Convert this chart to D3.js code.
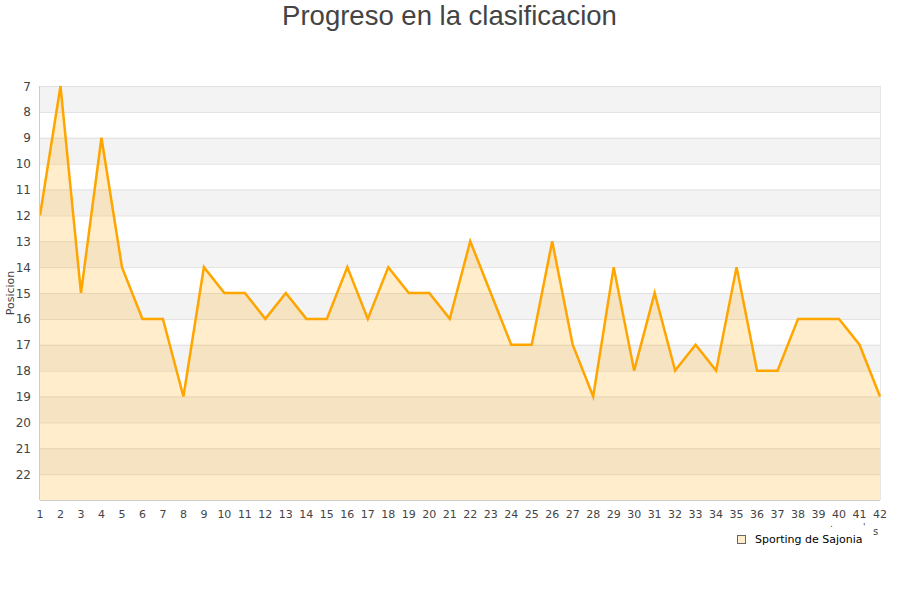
<!DOCTYPE html>
<html><head><meta charset="utf-8">
<script src="https://cdn.jsdelivr.net/npm/d3@7"></script>
<style>body{margin:0;background:#fff}svg{display:block}</style>
</head><body>
<svg id="c" width="900" height="600"></svg>
<script>
const jornadas = d3.range(1, 43);
const posiciones = [12,7,15,9,14,16,16,19,14,15,15,16,15,16,16,14,16,14,15,15,16,13,15,17,17,13,17,19,14,18,15,18,17,18,14,18,18,16,16,16,17,19];
const yTicks = d3.range(7, 23);
const title = "Progreso en la clasificacion";
const yTitle = "Posicion";
const seriesName = "Sporting de Sajonia";

const svg = d3.select("#c");
const m = {l:40, r:880, t:86, b:500};
const x = d3.scaleLinear().domain([1,42]).range([m.l, m.r]);
const y = d3.scaleLinear().domain([7,23]).range([m.t, m.b]);

// bands
const bands = d3.range(7, 23);
svg.selectAll("rect.band").data(bands).enter().append("rect")
  .attr("x", m.l).attr("width", m.r-m.l)
  .attr("y", d=>y(d)).attr("height", d=>y(d+1)-y(d))
  .attr("fill", d => (d-7)%2===0 ? "#f3f3f3" : "#ffffff");
svg.selectAll("line.grid").data(d3.range(7,24)).enter().append("line")
  .attr("x1", m.l).attr("x2", m.r).attr("y1", d=>y(d)+0.5).attr("y2", d=>y(d)+0.5)
  .attr("stroke", "#e0e0e0").attr("stroke-width", 1);
svg.append("line").attr("x1", m.r+0.5).attr("x2", m.r+0.5).attr("y1", m.t).attr("y2", m.b).attr("stroke","#e6e6e6");

const data = jornadas.map((j,i)=>({j, p: posiciones[i]}));
svg.append("path").datum(data)
  .attr("d", d3.area().x(d=>x(d.j)).y0(m.b).y1(d=>y(d.p)))
  .attr("fill", "rgba(255,165,0,0.2)");
svg.append("path").datum(data)
  .attr("d", d3.line().x(d=>x(d.j)).y(d=>y(d.p)))
  .attr("fill", "none").attr("stroke", "#ffa500").attr("stroke-width", 2.5).attr("stroke-linejoin","miter");

// axes
svg.append("line").attr("x1", m.l-0.5).attr("x2", m.l-0.5).attr("y1", m.t).attr("y2", m.b).attr("stroke","#cccccc");
svg.append("line").attr("x1", m.l).attr("x2", m.r).attr("y1", m.b+0.5).attr("y2", m.b+0.5).attr("stroke","#cccccc");

const font = "DejaVu Sans, Verdana, sans-serif";
svg.selectAll("text.yt").data(yTicks).enter().append("text")
  .attr("x", 31).attr("y", d=>y(d)+4.5).attr("text-anchor","end")
  .attr("font-family", font).attr("font-size", 12).attr("fill", "#444").text(d=>d);
svg.selectAll("text.xt").data(jornadas).enter().append("text")
  .attr("x", d=>x(d)).attr("y", 518).attr("text-anchor","middle")
  .attr("font-family", font).attr("font-size", 11).attr("fill", "#444").text(d=>d);

svg.append("text").attr("transform","translate(14,293) rotate(-90)").attr("text-anchor","middle")
  .attr("font-family", font).attr("font-size", 11).attr("fill","#444").text(yTitle);

svg.append("text").attr("x", 449.5).attr("y", 25).attr("text-anchor","middle")
  .attr("font-family", "Liberation Sans, Arial, sans-serif").attr("font-size", 27.5).attr("fill","#444").text(title);

// stray axis title fragments
svg.append("text").attr("x", 830).attr("y", 527).attr("font-family", font).attr("font-size", 9).attr("fill","#444").text(".");
svg.append("text").attr("x", 863).attr("y", 530).attr("font-family", font).attr("font-size", 9).attr("fill","#444").text("'");
svg.append("text").attr("x", 873).attr("y", 535).attr("font-family", font).attr("font-size", 10).attr("fill","#444").text("s");

// legend
svg.append("rect").attr("x", 737.5).attr("y", 535.5).attr("width", 8).attr("height", 8)
  .attr("fill", "#ffedcc").attr("stroke", "#666").attr("stroke-width", 1);
svg.append("text").attr("x", 755).attr("y", 543).attr("font-family", font).attr("font-size", 11).attr("fill","#000").text(seriesName);
</script>
</body></html>
